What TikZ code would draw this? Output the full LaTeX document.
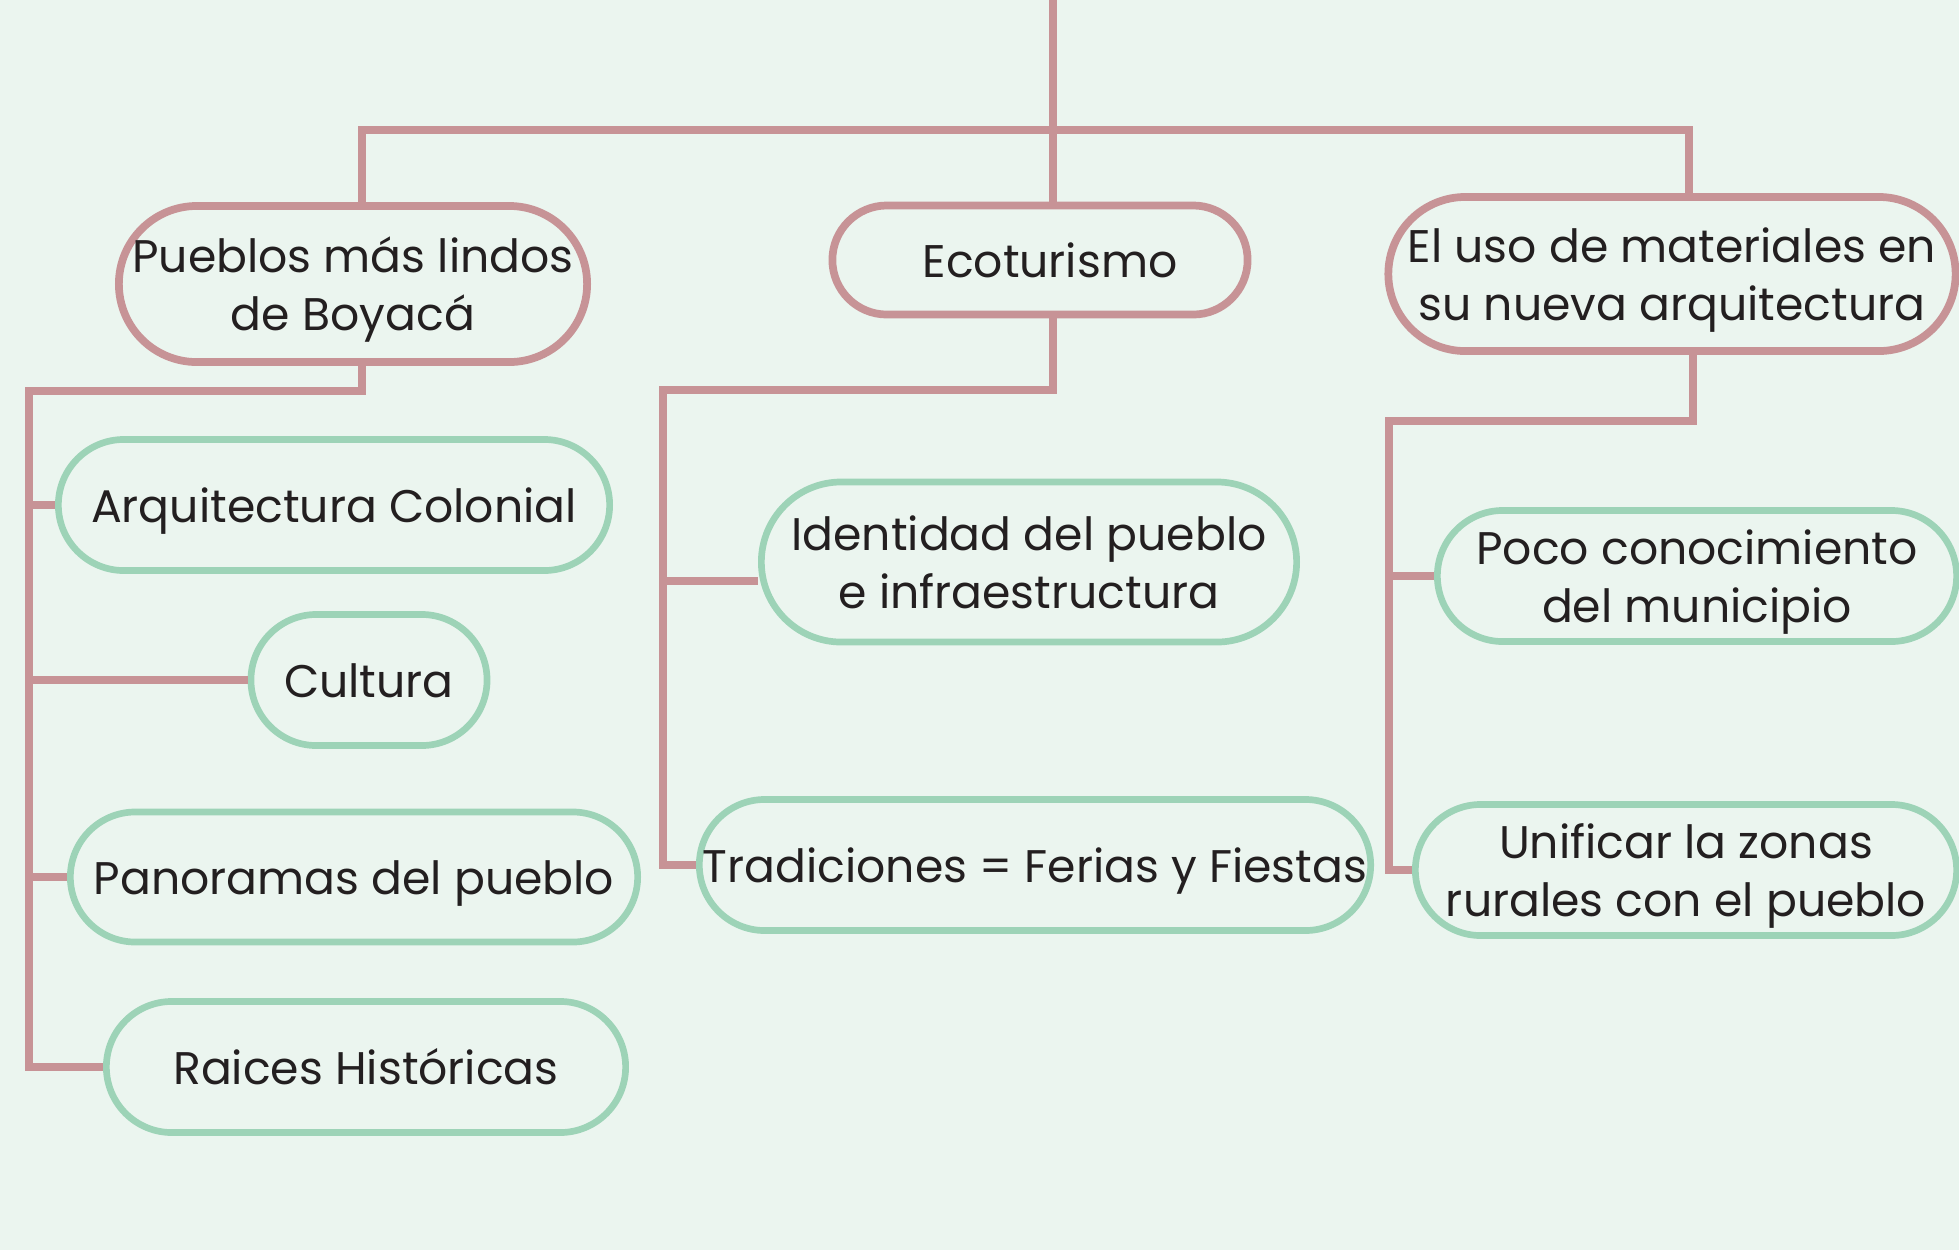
\documentclass[tikz,border=0pt]{standalone}
\usepackage{fontspec}
\setmainfont{Poppins}
\usetikzlibrary{shapes.misc}
\definecolor{bgc}{HTML}{EBF5EF}
\definecolor{pinkc}{HTML}{C79396}
\definecolor{greenc}{HTML}{9DD3B7}
\definecolor{txtc}{HTML}{231F20}
\newcommand\boxtxt[1]{\makebox[0pt][c]{\raisebox{-1.6pt}[\height][\depth]{\begin{tabular}{@{}c@{}}#1\end{tabular}}}}
\tikzset{
  base/.style 2 args={shape=rounded rectangle, inner sep=0pt, minimum width=#1, minimum height=#2, align=center, text=txtc, font=\fontsize{13pt}{16.4pt}\selectfont},
  pinkbox/.style 2 args={base={#1}{#2}, draw=pinkc, line width=2.2pt},
  greenbox/.style 2 args={base={#1}{#2}, draw=greenc, line width=1.9pt},
  conn/.style={draw=pinkc, line width=2.3pt}
}
\begin{document}
\begin{tikzpicture}[x=0.01cm, y=-0.01cm]
\fill[bgc] (0,0) rectangle (1959,1250);
\useasboundingbox (0,0) rectangle (1959,1250);
% top level
\node[pinkbox={4.68cm}{1.56cm}] (pueblos) at (353,284) {\boxtxt{Pueblos más lindos\\de Boyacá}};
\node[pinkbox={4.15cm}{1.09cm}] (eco) at (1040,260) {\boxtxt{\hspace*{0.2cm}Ecoturismo}};
\node[pinkbox={5.67cm}{1.54cm}] (uso) at (1672,274) {\boxtxt{El uso de materiales en\\su nueva arquitectura}};
% children left
\node[greenbox={5.51cm}{1.31cm}] (arq) at (334,505) {\boxtxt{Arquitectura Colonial}};
\node[greenbox={2.36cm}{1.31cm}] (cul) at (369,680) {\boxtxt{Cultura}};
\node[greenbox={5.67cm}{1.30cm}] (pan) at (354,877) {\boxtxt{Panoramas del pueblo}};
\node[greenbox={5.19cm}{1.31cm}] (rai) at (366,1067) {\boxtxt{Raices Históricas}};
% children middle
\node[greenbox={5.35cm}{1.60cm}] (ide) at (1029,562) {\boxtxt{Identidad del pueblo\\e infraestructura}};
\node[greenbox={6.71cm}{1.31cm}] (tra) at (1035,865) {\boxtxt{Tradiciones = Ferias y Fiestas}};
% children right
\node[greenbox={5.19cm}{1.31cm}] (poc) at (1697,576) {\boxtxt{Poco conocimiento\\del municipio}};
\node[greenbox={5.41cm}{1.31cm}] (uni) at (1686,870) {\boxtxt{Unificar la zonas\\rurales con el pueblo}};
% coordinates
\coordinate (top) at (1053,0);
\coordinate (hbL) at (362,130);
\coordinate (hbR) at (1689,130);
\coordinate (lj) at (362,391);
\coordinate (lbus) at (29,391);
\coordinate (mj) at (1053,390);
\coordinate (mbus) at (663,390);
\coordinate (ideS) at (663,581);
\coordinate (rj) at (1693,421);
\coordinate (rbus) at (1389,421);
% main connectors
\draw[conn] (top) -- (top |- eco.north);
\draw[conn] (hbL |- pueblos.north) -- (hbL) -- (hbR) -- (hbR |- uso.north);
% left branch
\draw[conn] (lj |- pueblos.south) -- (lj) -- (lbus) -- (lbus |- rai.west) -- (rai.west);
\draw[conn] (lbus |- arq.west) -- (arq.west);
\draw[conn] (lbus |- cul.west) -- (cul.west);
\draw[conn] (lbus |- pan.west) -- (pan.west);
% middle branch
\draw[conn] (mj |- eco.south) -- (mj) -- (mbus) -- (mbus |- tra.west) -- (tra.west);
\draw[conn] (ideS) -- (ideS -| ide.west);
% right branch
\draw[conn] (rj |- uso.south) -- (rj) -- (rbus) -- (rbus |- uni.west) -- (uni.west);
\draw[conn] (rbus |- poc.west) -- (poc.west);
\end{tikzpicture}
\end{document}
